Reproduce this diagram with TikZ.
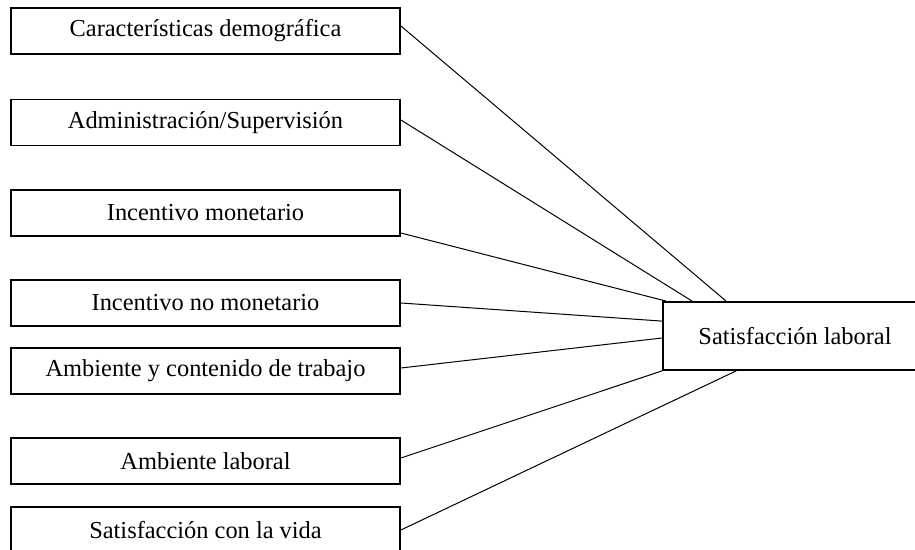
\documentclass[tikz,border=0pt]{standalone}
\usepackage{fontspec}
\setmainfont{Liberation Serif}

\begin{document}
\begin{tikzpicture}[x=0.5pt,y=-0.5pt,
    caja/.style={draw,line width=0.9pt,minimum width=194.5pt,minimum height=23pt,inner sep=0pt,font=\fontsize{12.2}{14}\selectfont},
    enlace/.style={line width=0.5pt}]
    \useasboundingbox (0,0) rectangle (915,550);
    \node[caja] (dem) at (205.5,31) {Características demográfica};
    \node[caja] (adm) at (205.5,122.5) {Administración/Supervisión};
    \node[caja] (mon) at (205.5,213) {Incentivo monetario};
    \node[caja] (nomon) at (205.5,303) {Incentivo no monetario};
    \node[caja] (amb) at (205.5,371) {Ambiente y contenido de trabajo};
    \node[caja] (lab) at (205.5,461) {Ambiente laboral};
    \node[caja] (vida) at (205.5,530) {Satisfacción con la vida};
    \node[caja,minimum width=132pt,minimum height=34pt] (sat) at (795,336) {Satisfacción laboral};
    \draw[enlace] ([yshift=2.5pt]dem.east) -- ([xshift=32pt]sat.north west);
    \draw[enlace] ([yshift=1.25pt]adm.east) -- ([xshift=15pt]sat.north west);
    \draw[enlace] ([yshift=-10pt]mon.east) -- ([xshift=2pt]sat.north west);
    \draw[enlace] (nomon.east) -- ([yshift=-10pt]sat.north west);
    \draw[enlace] ([yshift=1.5pt]amb.east) -- ([yshift=-1pt]sat.west);
    \draw[enlace] ([yshift=1.5pt]lab.east) -- (sat.south west);
    \draw[enlace] (vida.east) -- ([xshift=37pt]sat.south west);
\end{tikzpicture}
\end{document}
